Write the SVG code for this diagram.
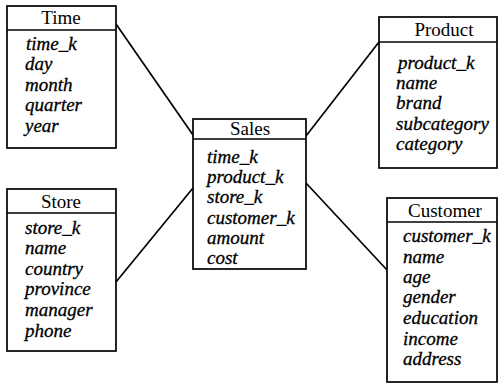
<svg xmlns="http://www.w3.org/2000/svg" width="501" height="387" viewBox="0 0 501 387">
<style>
.box{fill:#fff;stroke:#000;stroke-width:1.7}
.sep{stroke:#000;stroke-width:1.6}
text{font-family:'Liberation Serif','Times New Roman','DejaVu Serif',serif;fill:#000}
.title{font-size:19px;text-anchor:middle}
.attr{font-size:19px;font-style:italic;stroke:#000;stroke-width:0.3}
.conn{stroke:#000;stroke-width:1.7;fill:none}
</style>
<rect width="501" height="387" fill="#fff"/>
<g id="connectors">
<line class="conn" x1="116" y1="24" x2="193" y2="135"/>
<line class="conn" x1="116" y1="282" x2="193" y2="188"/>
<line class="conn" x1="379" y1="42" x2="306" y2="136"/>
<line class="conn" x1="306" y1="183" x2="387" y2="270"/>
</g>
<g id="time">
<rect class="box" x="7" y="6" width="109" height="142"/>
<line class="sep" x1="7" y1="30" x2="116" y2="30"/>
<text class="title" x="61" y="24">Time</text>
<text class="attr" x="26" y="50">time_k</text>
<text class="attr" x="25" y="70">day</text>
<text class="attr" x="25" y="91">month</text>
<text class="attr" x="25" y="111">quarter</text>
<text class="attr" x="25" y="132">year</text>
</g>
<g id="store">
<rect class="box" x="7" y="189" width="109" height="162"/>
<line class="sep" x1="7" y1="213" x2="116" y2="213"/>
<text class="title" x="61" y="208">Store</text>
<text class="attr" x="25" y="234">store_k</text>
<text class="attr" x="25" y="254">name</text>
<text class="attr" x="25" y="275">country</text>
<text class="attr" x="25" y="295">province</text>
<text class="attr" x="25" y="316">manager</text>
<text class="attr" x="25" y="337">phone</text>
</g>
<g id="sales">
<rect class="box" x="193" y="119" width="113" height="150"/>
<line class="sep" x1="193" y1="139" x2="306" y2="139"/>
<text class="title" x="250" y="135">Sales</text>
<text class="attr" x="207" y="163">time_k</text>
<text class="attr" x="207" y="183">product_k</text>
<text class="attr" x="207" y="203">store_k</text>
<text class="attr" x="207" y="224">customer_k</text>
<text class="attr" x="207" y="244">amount</text>
<text class="attr" x="207" y="264">cost</text>
</g>
<g id="product">
<rect class="box" x="379" y="17" width="118" height="151"/>
<line class="sep" x1="379" y1="42" x2="497" y2="42"/>
<text class="title" x="444" y="36">Product</text>
<text class="attr" x="398" y="69">product_k</text>
<text class="attr" x="396" y="89">name</text>
<text class="attr" x="396" y="109">brand</text>
<text class="attr" x="396" y="130">subcategory</text>
<text class="attr" x="396" y="150">category</text>
</g>
<g id="customer">
<rect class="box" x="387" y="198" width="110" height="184"/>
<line class="sep" x1="387" y1="222" x2="497" y2="222"/>
<text class="title" x="445" y="217">Customer</text>
<text class="attr" x="403" y="242">customer_k</text>
<text class="attr" x="403" y="263">name</text>
<text class="attr" x="403" y="283">age</text>
<text class="attr" x="403" y="303">gender</text>
<text class="attr" x="403" y="324">education</text>
<text class="attr" x="403" y="345">income</text>
<text class="attr" x="403" y="365">address</text>
</g>
</svg>
